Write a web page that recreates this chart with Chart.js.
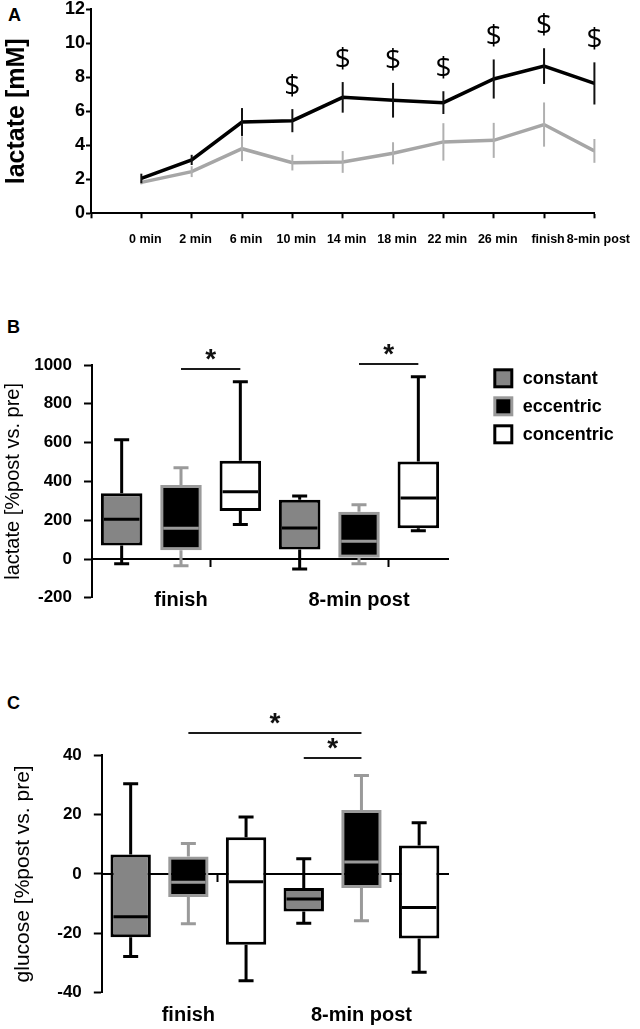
<!DOCTYPE html>
<html><head><meta charset="utf-8">
<script src="https://cdn.jsdelivr.net/npm/chart.js@4.4.1/dist/chart.umd.min.js"></script>
<style>
html,body{margin:0;padding:0;background:#fff;width:640px;height:1029px;overflow:hidden;position:relative;font-family:"Liberation Sans",Arial,sans-serif;}
.wrap{position:absolute;left:0;width:640px;}
.letter{position:absolute;font-weight:bold;font-size:18px;color:#000;line-height:1;}
</style></head><body>
<div class="letter" style="left:8px;top:6px">A</div>
<div class="letter" style="left:7px;top:318px">B</div>
<div class="letter" style="left:7px;top:694px">C</div>
<div class="wrap" style="top:-20px;height:290px"><canvas id="cA" width="640" height="290"></canvas></div>
<div class="wrap" style="top:330px;height:290px"><canvas id="cB" width="640" height="290"></canvas></div>
<div class="wrap" style="top:700px;height:329px"><canvas id="cC" width="640" height="329"></canvas></div>
<script>
// ---------- Panel A data ----------
const timeLabels = ['0 min','2 min','6 min','10 min','14 min','18 min','22 min','26 min','finish','8-min post'];
const lactateBlack    = [2.05, 3.14, 5.37, 5.45, 6.82, 6.65, 6.51, 7.90, 8.66, 7.64];
const lactateBlackErr = [0.28, 0.30, 0.82, 0.68, 0.90, 1.02, 0.67, 1.15, 1.05, 1.24];
const lactateGray     = [1.82, 2.45, 3.80, 2.98, 3.02, 3.53, 4.20, 4.29, 5.22, 3.67];
const lactateGrayErr  = [0.12, 0.32, 0.73, 0.46, 0.64, 0.65, 1.10, 1.03, 1.30, 0.70];
const dollarMarks     = [false,false,false,true,true,true,true,true,true,true];
const aYTicks = [0,2,4,6,8,10,12];

// ---------- Panels B / C data ----------
const groups = ['finish','8-min post'];
const conditions = ['constant','eccentric','concentric'];
// slots: finish-constant, finish-eccentric, finish-concentric, post-constant, post-eccentric, post-concentric
const bMin = [-25, -35, 178, -52, -25, 146];
const bQ1  = [ 69,  45, 247,  49,   7, 158];
const bMed = [205, 158, 347, 160,  92, 314];
const bQ3  = [339, 381, 507, 305, 243, 503];
const bMax = [615, 471, 914, 325, 280, 939];
const bYTicks = [-200,0,200,400,600,800,1000];
const bSigPairs = [[1,2],[4,5]];
const bSigLevels = [980, 1005];

const cMin = [-27.8, -16.8, -36.0, -16.6, -15.8, -33.1];
const cQ1  = [-21.3,  -7.8, -23.9, -12.7,  -4.8, -21.8];
const cMed = [-14.4,  -2.8,  -2.7,  -8.5,   4.0, -11.3];
const cQ3  = [  6.5,   5.8,  12.3,  -4.8,  21.5,   9.5];
const cMax = [ 30.3,  10.2,  19.1,   5.1,  33.1,  17.2];
const cYTicks = [-40,-20,0,20,40];
const cSigPairs = [[1,4],[3,4]];
const cSigLevels = [47.4, 39];

// ---------- styles ----------
const FONT = 'Liberation Sans';
const condStyle = {
  constant:   {fill:'#858585', stroke:'#000000'},
  eccentric:  {fill:'#000000', stroke:'#9a9a9a'},
  concentric: {fill:'#ffffff', stroke:'#000000'}
};
const slotConds = groups.flatMap(() => conditions);
const slotLabels = groups.flatMap(g => conditions.map((c,i) => i === 1 ? g : ''));

// ---------- Panel A ----------
const errorBarPlugin = {
  id:'errorBars',
  afterDatasetsDraw(chart){
    const ctx = chart.ctx, xs = chart.scales.x, ys = chart.scales.y;
    const order = chart.data.datasets.map((d,i)=>i).reverse();
    order.forEach(di => {
      const ds = chart.data.datasets[di];
      if (!ds.errors) return;
      ctx.save();
      ctx.strokeStyle = ds.errColor; ctx.lineWidth = 2;
      ds.data.forEach((p,i) => {
        const x = xs.getPixelForValue(p.x);
        const y1 = ys.getPixelForValue(p.y - ds.errors[i]);
        const y2 = ys.getPixelForValue(p.y + ds.errors[i]);
        ctx.beginPath(); ctx.moveTo(x,y1); ctx.lineTo(x,y2); ctx.stroke();
        if (ds.marks && ds.marks[i]) {
          ctx.fillStyle = '#000';
          ctx.font = '28px "Open Sans"';
          ctx.textAlign = 'center'; ctx.textBaseline = 'alphabetic';
          ctx.fillText('$', x, y2 - 14);
        }
      });
      ctx.restore();
    });
  }
};

new Chart(document.getElementById('cA'), {
  type:'line',
  data:{datasets:[
    {data: timeLabels.map((_,i)=>({x:i, y:lactateBlack[i]})), borderColor:'#000', borderWidth:3.5,
     pointRadius:0, tension:0, errors: lactateBlackErr, errColor:'#111', marks: dollarMarks},
    {data: timeLabels.map((_,i)=>({x:i, y:lactateGray[i]})), borderColor:'#a6a6a6', borderWidth:3.5,
     pointRadius:0, tension:0, errors: lactateGrayErr, errColor:'#b0b0b0'}
  ]},
  options:{
    animation:false, responsive:false, events:[],
    layout:{padding:{top:29.3, right:45, left:0, bottom:0}},
    plugins:{legend:{display:false}, tooltip:{enabled:false}},
    scales:{
      x:{type:'linear', min:-1, max:timeLabels.length-1,
         afterBuildTicks: s => { s.ticks = [-1, ...timeLabels.map((_,i)=>i)].map(v=>({value:v})); },
         afterFit: s => { s.height = 56.7; },
         grid:{drawOnChartArea:false, tickLength:5, tickWidth:2, tickColor:'#000'},
         border:{color:'#000', width:2},
         ticks:{callback:(v)=> timeLabels[v] ?? '', autoSkip:false, maxRotation:0, minRotation:0,
                padding:14, labelOffset:4, color:'#000', font:{family:FONT, size:12.5, weight:'bold'}}},
      y:{min:0, max:12,
         afterBuildTicks: s => { s.ticks = aYTicks.map(v=>({value:v})); },
         afterFit: s => { s.width = 91; },
         grid:{drawOnChartArea:false, tickLength:5, tickWidth:2, tickColor:'#000'},
         border:{color:'#000', width:2},
         ticks:{callback:(v)=>String(v), padding:1, color:'#000', font:{family:FONT, size:18, weight:'bold'}},
         title:{display:true, text:'lactate [mM]', color:'#000', padding:{top:2,bottom:0},
                font:{family:FONT, size:25, weight:'bold'}}}
    }
  },
  plugins:[errorBarPlugin]
});

// ---------- Box plot helpers ----------
const boxExtras = {
  id:'boxExtras',
  beforeDatasetsDraw(chart, args, o){
    const ctx = chart.ctx, xs = chart.scales.x, ys = chart.scales.y;
    ctx.save(); ctx.lineWidth = 3; ctx.lineCap = 'butt';
    o.min.forEach((_,i) => {
      const x = xs.getPixelForValue(i);
      ctx.strokeStyle = condStyle[slotConds[i]].stroke;
      const yMax = ys.getPixelForValue(o.max[i]), yQ3 = ys.getPixelForValue(o.q3[i]);
      const yMin = ys.getPixelForValue(o.min[i]), yQ1 = ys.getPixelForValue(o.q1[i]);
      ctx.beginPath();
      ctx.moveTo(x,yQ3); ctx.lineTo(x,yMax);
      ctx.moveTo(x-7.5,yMax); ctx.lineTo(x+7.5,yMax);
      ctx.moveTo(x,yQ1); ctx.lineTo(x,yMin);
      ctx.moveTo(x-7.5,yMin); ctx.lineTo(x+7.5,yMin);
      ctx.stroke();
    });
    ctx.restore();
  },
  afterDatasetsDraw(chart, args, o){
    const ctx = chart.ctx, ys = chart.scales.y;
    const meta = chart.getDatasetMeta(0);
    ctx.save(); ctx.lineWidth = 3;
    meta.data.forEach((bar,i) => {
      const y = ys.getPixelForValue(o.med[i]);
      ctx.strokeStyle = condStyle[slotConds[i]].stroke;
      ctx.beginPath();
      ctx.moveTo(bar.x - bar.width/2 + 3, y); ctx.lineTo(bar.x + bar.width/2 - 3, y);
      ctx.stroke();
    });
    ctx.restore();
  },
  afterDraw(chart, args, o){
    const ctx = chart.ctx, xs = chart.scales.x, ys = chart.scales.y;
    ctx.save();
    o.sigPairs.forEach((p,k) => {
      const x1 = xs.getPixelForValue(p[0]), x2 = xs.getPixelForValue(p[1]);
      const y = ys.getPixelForValue(o.sigLevels[k]);
      ctx.strokeStyle = '#1a1a1a'; ctx.lineWidth = 2;
      ctx.beginPath(); ctx.moveTo(x1,y); ctx.lineTo(x2,y); ctx.stroke();
      ctx.fillStyle = '#111'; ctx.font = 'bold 28px "' + FONT + '"';
      ctx.textAlign = 'center'; ctx.textBaseline = 'alphabetic';
      ctx.fillText('*', (x1+x2)/2, y - 1);
    });
    if (o.legend) {
      const ca = chart.chartArea;
      const lx = ca.right + 45.3;
      conditions.forEach((c,i) => {
        const cy = ca.top + 13.3 + i*28;
        const st = condStyle[c];
        ctx.fillStyle = st.stroke; ctx.fillRect(lx, cy-10, 20, 20);
        ctx.fillStyle = st.fill; ctx.fillRect(lx+3, cy-7, 14, 14);
        ctx.fillStyle = '#000'; ctx.font = 'bold 18px "' + FONT + '"';
        ctx.textAlign = 'left'; ctx.textBaseline = 'middle';
        ctx.fillText(c, lx + 29.4, cy + 1);
      });
    }
    ctx.restore();
  }
};

function makeBox(id, d){
  return new Chart(document.getElementById(id), {
    type:'bar',
    data:{labels: slotLabels, datasets:[{
      data: d.q1.map((v,i)=>[v, d.q3[i]]),
      backgroundColor: slotConds.map(c=>condStyle[c].fill),
      borderColor: slotConds.map(c=>condStyle[c].stroke),
      borderWidth:3, borderSkipped:false, barPercentage:0.7, categoryPercentage:1
    }]},
    options:{
      animation:false, responsive:false, events:[],
      layout:{padding:{top:d.padTop, right:192, left:0, bottom:d.padBottom}},
      plugins:{legend:{display:false}, tooltip:{enabled:false},
        boxExtras:{min:d.min, q1:d.q1, med:d.med, q3:d.q3, max:d.max, sigPairs:d.sigPairs, sigLevels:d.sigLevels, legend:d.legend}},
      scales:{
        x:{type:'category', position:{y:0}, offset:true,
           grid:{display:true, drawOnChartArea:false, drawTicks:true, tickLength:7, tickWidth:2,
                 tickColor: c => (c.index % 3 === 2) ? '#000' : 'rgba(0,0,0,0)'},
           border:{display:true, color:'#000', width:2},
           ticks:{autoSkip:false, maxRotation:0, minRotation:0, padding:d.labelPad, color:'#000',
                  font:{family:FONT, size:20, weight:'bold'}}},
        y:{type:'linear', min:d.yTicks[0], max:d.yTicks[d.yTicks.length-1],
           afterBuildTicks: s => { s.ticks = d.yTicks.map(v=>({value:v})); },
           afterFit: s => { s.width = 92; },
           grid:{drawOnChartArea:false, tickLength:8, tickWidth:2, tickColor:'#000'},
           border:{color:'#000', width:2},
           ticks:{callback:(v)=>String(v), padding:12, color:'#000', font:{family:FONT, size:17, weight:'bold'}},
           title:{display:true, text:d.title, color:'#000', padding:{top:1,bottom:0},
                  font:{family:FONT, size:d.titleSize, weight:'normal'}}}
      }
    },
    plugins:[boxExtras]
  });
}

makeBox('cB', {min:bMin, q1:bQ1, med:bMed, q3:bQ3, max:bMax, yTicks:bYTicks,
  sigPairs:bSigPairs, sigLevels:bSigLevels, legend:true,
  title:'lactate [%post vs. pre]', titleSize:20, padTop:35, padBottom:17, labelPad:22});

makeBox('cC', {min:cMin, q1:cQ1, med:cMed, q3:cQ3, max:cMax, yTicks:cYTicks,
  sigPairs:cSigPairs, sigLevels:cSigLevels, legend:false,
  title:'glucose [%post vs. pre]', titleSize:21, padTop:55, padBottom:36.3, labelPad:123});
</script>
</body></html>
